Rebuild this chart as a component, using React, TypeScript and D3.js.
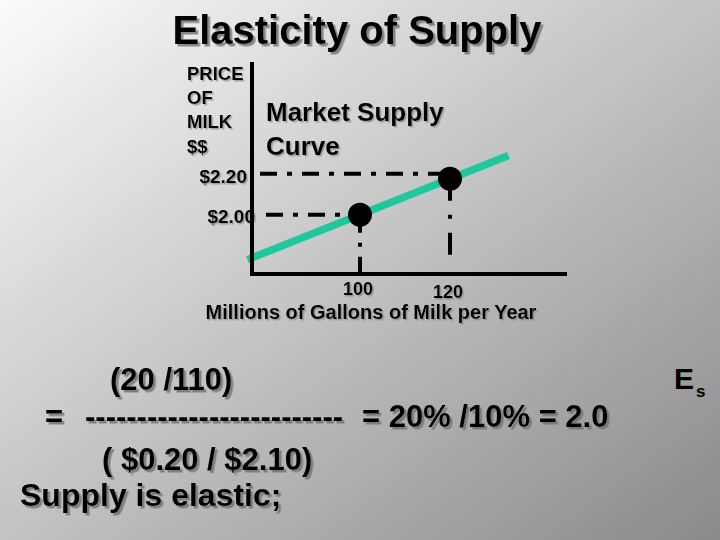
import { useEffect, useRef } from 'react';
import * as d3 from 'd3';

// market points
const quantities = [100, 120];
const prices = [2.0, 2.2];
const priceLabels = ['$2.00', '$2.20'];
const quantityLabels = ['100', '120'];
// ends of the drawn supply line (quantity, price)
const supplyQ = [75, 133];
const supplyP = [1.75, 2.33];

const yAxisLabel = ['PRICE', 'OF', 'MILK', '$$'];
const curveLabel = ['Market Supply', 'Curve'];

const W = 720;
const H = 540;
const FONT = 'Liberation Sans, Arial, sans-serif';
const GREEN = '#1fc89c';

export default function App() {
    const chartArea = useRef(null);

    // x: 4.5px per million gallons, y: 180px per dollar
    const xScale = d3.scaleLinear().domain([76, 146]).range([252, 567]);
    const yScale = d3.scaleLinear().domain([1.67, 2.85]).range([274, 62]);

    useEffect(() => {
        const g = d3.select(chartArea.current);
        g.selectAll('*').remove();

        const x0 = xScale.range()[0];
        const yBottom = yScale.range()[0];

        // supply line
        const line = d3.line()
            .x((d) => xScale(d[0]))
            .y((d) => yScale(d[1]));
        g.append('path')
            .datum(d3.zip(supplyQ, supplyP))
            .attr('d', line)
            .attr('stroke', GREEN)
            .attr('stroke-width', 7.5)
            .attr('fill', 'none');

        // dash-dot guides
        quantities.forEach((q, i) => {
            const cx = xScale(q);
            const cy = yScale(prices[i]);
            g.append('line')
                .attr('x1', x0 + (i ? 8 : 14)).attr('x2', cx)
                .attr('y1', cy - i * 5).attr('y2', cy - i * 5)
                .attr('stroke', '#000').attr('stroke-width', 4)
                .attr('stroke-dasharray', '17 10 5 10');
            g.append('line')
                .attr('x1', cx).attr('x2', cx)
                .attr('y1', cy).attr('y2', yBottom - (i ? 10 : 0))
                .attr('stroke', '#000').attr('stroke-width', 4)
                .attr('stroke-dasharray', i ? '22 14 4 14' : '18 10 4 10');
        });

        // axes
        g.append('line')
            .attr('x1', x0).attr('x2', x0)
            .attr('y1', yScale.range()[1]).attr('y2', yBottom + 2)
            .attr('stroke', '#000').attr('stroke-width', 4);
        g.append('line')
            .attr('x1', x0 - 2).attr('x2', xScale.range()[1])
            .attr('y1', yBottom).attr('y2', yBottom)
            .attr('stroke', '#000').attr('stroke-width', 4);

        // market points
        g.selectAll('circle')
            .data(quantities)
            .enter().append('circle')
            .attr('cx', (d) => xScale(d))
            .attr('cy', (d, i) => yScale(prices[i]))
            .attr('r', 12)
            .attr('fill', '#000');
    }, []);

    return (
        <svg width={W} height={H} style={{ position: 'absolute', left: 0, top: 0 }}
            fontFamily={FONT} fontWeight="bold">
            <defs>
                <linearGradient id="bg" x1="0" y1="0" x2="1" y2="1">
                    <stop offset="0" stopColor="#fbfbfb" />
                    <stop offset="1" stopColor="#8a8a8a" />
                </linearGradient>
                <filter id="shadow" x="-5%" y="-5%" width="115%" height="130%">
                    <feDropShadow dx="2.5" dy="2.5" stdDeviation="0.6" floodColor="#6e6e6e" floodOpacity="0.8" />
                </filter>
                <filter id="shadowSm" x="-5%" y="-5%" width="115%" height="130%">
                    <feDropShadow dx="1.5" dy="1.5" stdDeviation="0.5" floodColor="#777" floodOpacity="0.6" />
                </filter>
            </defs>
            <rect width={W} height={H} fill="url(#bg)" />

            <text x={357} y={44} fontSize={40} textAnchor="middle" filter="url(#shadow)">
                Elasticity of Supply
            </text>

            <g filter="url(#shadowSm)">
                {yAxisLabel.map((t, i) => (
                    <text key={t} x={187} y={80 + i * 24.2} fontSize={18.5}>{t}</text>
                ))}
                {curveLabel.map((t, i) => (
                    <text key={t} x={266} y={121 + i * 34} fontSize={26}>{t}</text>
                ))}
                {priceLabels.map((t, i) => (
                    <text key={t} x={i ? 247 : 255} y={yScale(prices[i]) + 8 - i * 4} fontSize={19}
                        textAnchor="end">{t}</text>
                ))}
                {quantityLabels.map((t, i) => (
                    <text key={t} x={xScale(quantities[i]) - 2} y={295 + i * 3} fontSize={18}
                        textAnchor="middle">{t}</text>
                ))}
                <text x={371} y={319} fontSize={20} textAnchor="middle">
                    Millions of Gallons of Milk per Year
                </text>
            </g>

            <g ref={chartArea} />

            <g fontSize={31} filter="url(#shadow)">
                <text x={110} y={390}>(20 /110)</text>
                <text x={45} y={427}>=</text>
                <text x={85} y={427}>-------------------------</text>
                <text x={362} y={427}>= 20% /10% = 2.0</text>
                <text x={102} y={470}>( $0.20 / $2.10)</text>
                <text x={20} y={506} fontSize={32}>Supply is elastic;</text>
            </g>

            <text x={674} y={389} fontSize={30}>E</text>
            <text x={696} y={397} fontSize={17}>s</text>
        </svg>
    );
}
